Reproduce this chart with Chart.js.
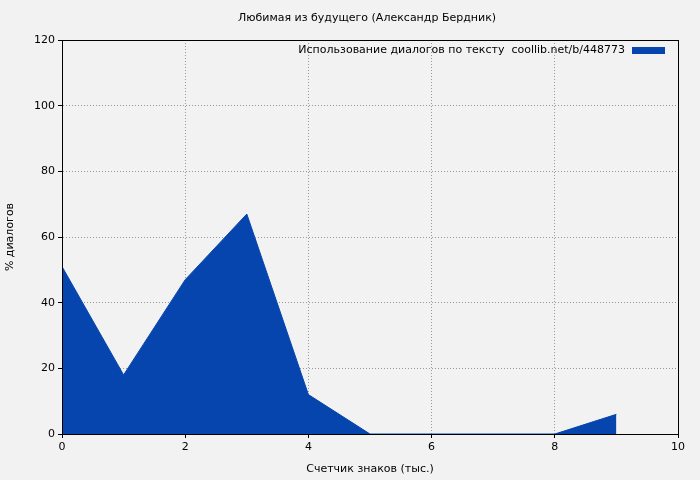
<!DOCTYPE html>
<html><head><meta charset="utf-8">
<script src="https://cdn.jsdelivr.net/npm/chart.js@4/dist/chart.umd.min.js"></script>
<style>body{margin:0;background:#f2f2f2}#wrap{width:700px;height:480px}</style>
</head><body><div id="wrap"><canvas id="c"></canvas></div>
<script>
// values
var xs = [0, 1, 2, 3, 4, 5, 6, 7, 8, 9];
var ys = [51, 18, 47, 67, 12, 0, 0, 0, 0, 6];
var chartTitle = "Любимая из будущего (Александр Бердник)";
var legendText = "Использование диалогов по тексту  coollib.net/b/448773";
var xTitle = "Счетчик знаков (тыс.)";
var yTitle = "% диалогов";

var pts = xs.map(function(x, i){ return {x: x, y: ys[i]}; });
var font = "DejaVu Sans";

var extras = {
  id: 'extras',
  afterDraw: function(ch){
    var c = ch.ctx, a = ch.chartArea;
    c.save();
    c.fillStyle = '#000';
    c.font = '11px "' + font + '"';
    c.textAlign = 'center'; c.textBaseline = 'middle';
    c.fillText(chartTitle, 367, 18);
    c.textAlign = 'right';
    c.fillText(legendText, 625, 50);
    c.fillStyle = '#0645ad';
    c.fillRect(632, 47, 33, 7);
    c.restore();
  }
};

new Chart(document.getElementById('c'), {
  type: 'line',
  data: { datasets: [{
    data: pts, fill: 'origin', tension: 0, pointRadius: 0,
    borderWidth: 1, borderColor: '#0645ad', backgroundColor: '#0645ad'
  }]},
  options: {
    responsive: true, maintainAspectRatio: false, animation: false,
    layout: { padding: { top: 40, right: 22, left: 0, bottom: 0 } },
    plugins: { legend: { display: false }, tooltip: { enabled: false } },
    scales: {
      x: {
        type: 'linear', min: 0, max: 10,
        ticks: { stepSize: 2, color: '#000', font: { family: font, size: 11 } },
        grid: { color: '#999', tickLength: 4, tickColor: '#000' },
        border: { color: '#000', dash: [1, 2] },
        title: { display: true, text: xTitle, color: '#000', font: { family: font, size: 11 } },
        afterFit: function(s){ s.height = 46; }
      },
      y: {
        min: 0, max: 120,
        ticks: { stepSize: 20, color: '#000', font: { family: font, size: 11 } },
        grid: { color: '#999', tickLength: 4, tickColor: '#000' },
        border: { color: '#000', dash: [1, 2] },
        title: { display: true, text: yTitle, color: '#000', font: { family: font, size: 11 } },
        afterFit: function(s){ s.width = 62; }
      }
    }
  },
  plugins: [extras, {
    id: 'frame',
    afterDraw: function(ch){
      var c = ch.ctx, a = ch.chartArea;
      c.save(); c.strokeStyle = '#000'; c.lineWidth = 1;
      c.strokeRect(a.left + 0.5, a.top + 0.5, a.right - a.left, a.bottom - a.top);
      c.restore();
    }
  }]
});
</script></body></html>
